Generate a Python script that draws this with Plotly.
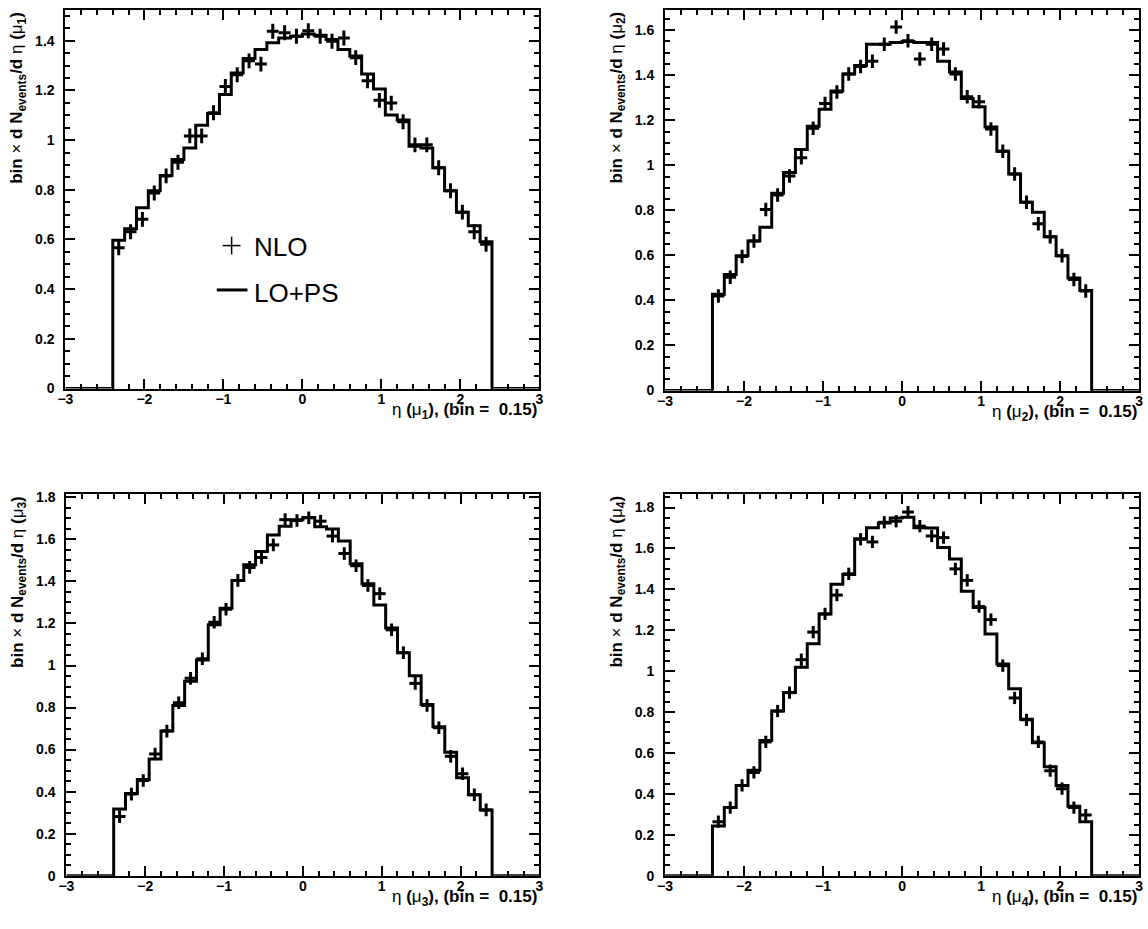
import plotly.graph_objects as go

# ---------------- data ----------------
bin_low = -2.4
bin_width = 0.15
n_bins = 32
x_range = [-3, 3]

lo_ps_1 = [0.597, 0.643, 0.728, 0.796, 0.858, 0.922, 0.968, 1.060, 1.107, 1.184, 1.270, 1.329, 1.365, 1.392, 1.411, 1.418,
           1.427, 1.422, 1.405, 1.365, 1.339, 1.266, 1.206, 1.101, 1.081, 0.975, 0.968, 0.889, 0.796, 0.710, 0.655, 0.591]
nlo_1 = [0.567, 0.631, 0.681, 0.787, 0.856, 0.911, 1.017, 1.017, 1.110, 1.216, 1.263, 1.319, 1.306, 1.438, 1.432, 1.418,
         1.440, 1.418, 1.398, 1.411, 1.332, 1.239, 1.160, 1.149, 1.074, 0.981, 0.981, 0.889, 0.796, 0.710, 0.631, 0.581]

lo_ps_2 = [0.427, 0.515, 0.598, 0.664, 0.725, 0.876, 0.968, 1.070, 1.173, 1.249, 1.330, 1.406, 1.443, 1.538, 1.538, 1.545,
           1.550, 1.545, 1.545, 1.462, 1.414, 1.297, 1.260, 1.170, 1.063, 0.961, 0.836, 0.792, 0.683, 0.599, 0.500, 0.444]
nlo_2 = [0.420, 0.503, 0.595, 0.664, 0.804, 0.868, 0.953, 1.034, 1.165, 1.275, 1.326, 1.406, 1.439, 1.462, 1.538, 1.614,
         1.553, 1.472, 1.538, 1.516, 1.406, 1.304, 1.282, 1.161, 1.063, 0.961, 0.836, 0.741, 0.683, 0.599, 0.493, 0.442]

lo_ps_3 = [0.317, 0.391, 0.458, 0.555, 0.688, 0.810, 0.925, 1.026, 1.194, 1.272, 1.405, 1.480, 1.543, 1.621, 1.663, 1.694,
           1.705, 1.660, 1.650, 1.593, 1.484, 1.389, 1.288, 1.178, 1.061, 0.951, 0.814, 0.709, 0.587, 0.466, 0.385, 0.313]
nlo_3 = [0.281, 0.388, 0.453, 0.579, 0.688, 0.823, 0.939, 1.032, 1.206, 1.268, 1.405, 1.467, 1.514, 1.574, 1.694, 1.690,
         1.703, 1.687, 1.616, 1.533, 1.475, 1.381, 1.342, 1.170, 1.061, 0.915, 0.810, 0.704, 0.568, 0.485, 0.385, 0.313]

lo_ps_4 = [0.243, 0.333, 0.441, 0.516, 0.661, 0.805, 0.895, 1.019, 1.134, 1.280, 1.425, 1.473, 1.648, 1.701, 1.725, 1.749,
           1.752, 1.701, 1.700, 1.605, 1.548, 1.391, 1.311, 1.182, 1.035, 0.914, 0.765, 0.650, 0.532, 0.441, 0.339, 0.264]
nlo_4 = [0.264, 0.333, 0.441, 0.505, 0.654, 0.805, 0.895, 1.056, 1.191, 1.280, 1.372, 1.476, 1.645, 1.632, 1.728, 1.733,
         1.778, 1.709, 1.661, 1.653, 1.500, 1.444, 1.316, 1.252, 1.027, 0.869, 0.762, 0.654, 0.513, 0.425, 0.333, 0.296]

nlo_err = 0.03
y_tops = [1.524, 1.69, 1.816, 1.866]
muon_index = ["1", "2", "3", "4"]
legend_labels = ["NLO", "LO+PS"]

# ---------------- layout geometry (pixels) ----------------
W, H = 1148, 929
panels = [  # left, right, top, bottom (pixels)
    (58, 537, 5, 389),
    (664, 1143, 5, 391),
    (59, 537, 496, 883),
    (664, 1143, 496, 883),
]


def px(x):
    return x / W


def py(y):
    return 1 - y / H


edges = [round(bin_low + i * bin_width, 4) for i in range(n_bins + 1)]
centers = [round(bin_low + (i + 0.5) * bin_width, 4) for i in range(n_bins)]

fig = go.Figure()
lo_sets = [lo_ps_1, lo_ps_2, lo_ps_3, lo_ps_4]
nlo_sets = [nlo_1, nlo_2, nlo_3, nlo_4]

tickfont = dict(family="Liberation Sans", size=14, color="black", weight="bold")
annotations = []
shapes = []

for k in range(4):
    xa = "x" if k == 0 else f"x{k+1}"
    ya = "y" if k == 0 else f"y{k+1}"
    lo = lo_sets[k]
    nlo = nlo_sets[k]
    # step histogram
    hx = [x_range[0]] + edges + [x_range[1]]
    hy = [0] + lo + [0, 0]
    fig.add_trace(go.Scatter(x=hx, y=hy, mode="lines", line=dict(shape="hv", color="black", width=3),
                             xaxis=xa, yaxis=ya, showlegend=False, hoverinfo="skip"))
    # NLO crosses
    fig.add_trace(go.Scatter(x=centers, y=nlo, mode="markers", marker=dict(size=1, color="black"),
                             error_x=dict(type="constant", value=bin_width / 2, thickness=3, width=0, color="black"),
                             error_y=dict(type="constant", value=nlo_err, thickness=3, width=0, color="black"),
                             xaxis=xa, yaxis=ya, showlegend=False))
    l, r, t, b = panels[k]
    axk = "xaxis" if k == 0 else f"xaxis{k+1}"
    ayk = "yaxis" if k == 0 else f"yaxis{k+1}"
    fig.update_layout(**{
        axk: dict(domain=[px(l), px(r)], anchor=ya, range=x_range, tick0=0, dtick=1,
                  ticks="inside", ticklen=10, tickwidth=1.5, tickcolor="black",
                  minor=dict(dtick=0.2, ticks="inside", ticklen=5, tickwidth=1.5, tickcolor="black"),
                  showline=True, linewidth=2, linecolor="black", mirror="ticks",
                  showgrid=False, zeroline=False, tickfont=tickfont, ticklabelstandoff=-3),
        ayk: dict(domain=[py(b), py(t)], anchor=xa, range=[0, y_tops[k]], tick0=0, dtick=0.2,
                  ticks="inside", ticklen=10, tickwidth=1.5, tickcolor="black",
                  minor=dict(dtick=0.05, ticks="inside", ticklen=5, tickwidth=1.5, tickcolor="black"),
                  showline=True, linewidth=2, linecolor="black", mirror="ticks",
                  showgrid=False, zeroline=False, tickfont=tickfont, ticklabelstandoff=6),
    })
    m = muon_index[k]
    # y title (top-aligned, rotated)
    annotations.append(dict(
        xref="paper", yref="paper", x=px(l - 48), y=py(t), xanchor="center", yanchor="top",
        textangle=-90, showarrow=False,
        text=f"<b>bin</b> × <b>d N<sub>events</sub>/d</b> η <b>(</b>μ<sub><b>{m}</b></sub><b>)</b>",
        font=dict(family="Liberation Sans", size=17, color="black")))
    # x title (right aligned)
    annotations.append(dict(
        xref="paper", yref="paper", x=px(r), y=py(b + 23), xanchor="right", yanchor="middle",
        showarrow=False,
        text=f"η <b>(</b>μ<sub><b>{m}</b></sub><b>), (bin =  0.15)</b>",
        font=dict(family="Liberation Sans", size=17, color="black")))

# legend in first panel
annotations.append(dict(xref="paper", yref="paper", x=px(247), y=py(245), xanchor="left", yanchor="middle",
                        showarrow=False, text=legend_labels[0],
                        font=dict(family="Liberation Sans", size=26, color="black")))
annotations.append(dict(xref="paper", yref="paper", x=px(247), y=py(292), xanchor="left", yanchor="middle",
                        showarrow=False, text=legend_labels[1],
                        font=dict(family="Liberation Sans", size=26, color="black")))
shapes.append(dict(type="line", xref="paper", yref="paper", x0=px(217), x1=px(235), y0=py(244), y1=py(244),
                   line=dict(color="black", width=1.5)))
shapes.append(dict(type="line", xref="paper", yref="paper", x0=px(226), x1=px(226), y0=py(235), y1=py(253),
                   line=dict(color="black", width=1.5)))
shapes.append(dict(type="line", xref="paper", yref="paper", x0=px(211), x1=px(242), y0=py(289), y1=py(289),
                   line=dict(color="black", width=3)))

fig.update_layout(width=W, height=H, margin=dict(l=0, r=0, t=0, b=0),
                  paper_bgcolor="white", plot_bgcolor="white",
                  annotations=annotations, shapes=shapes, showlegend=False)

fig.write_html("out.html", config={"displayModeBar": False},
               post_script="document.body.style.margin='0';document.body.style.overflow='hidden';")
